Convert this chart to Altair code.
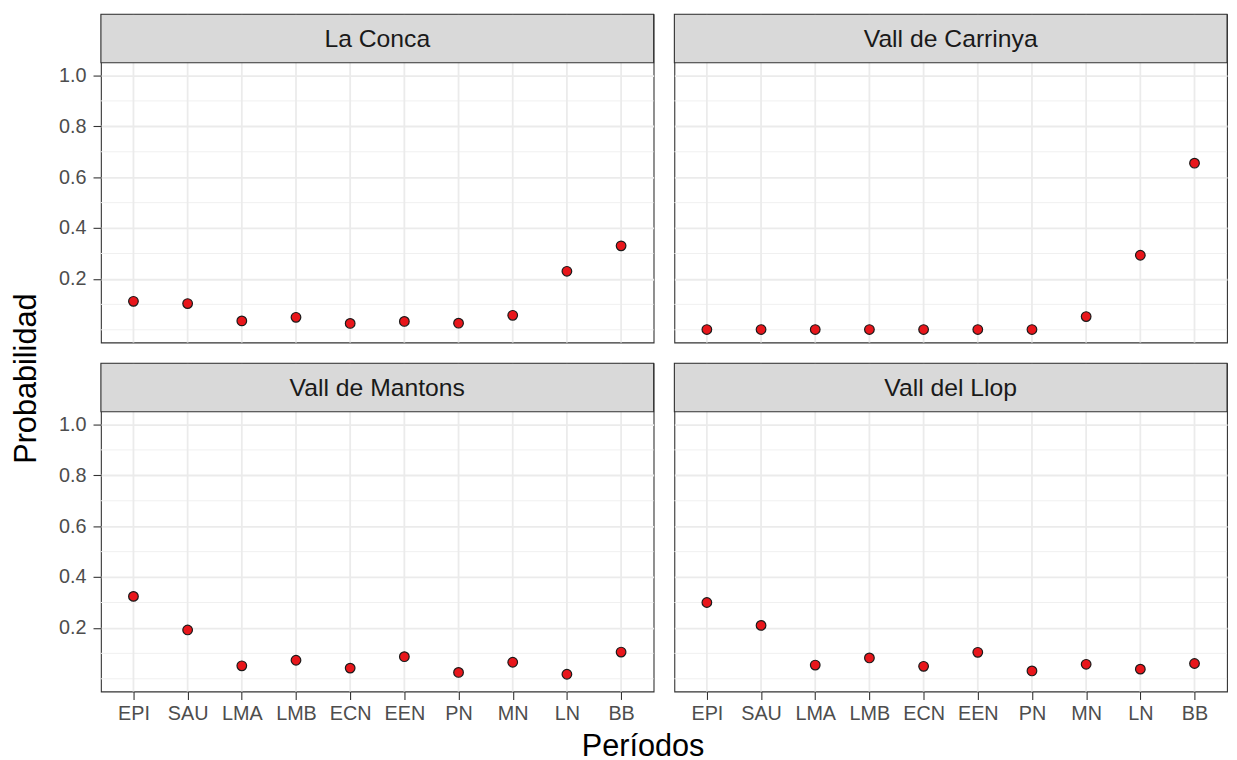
import altair as alt
import pandas as pd

periodos = ["EPI", "SAU", "LMA", "LMB", "ECN", "EEN", "PN", "MN", "LN", "BB"]
sitios = ["La Conca", "Vall de Carrinya", "Vall de Mantons", "Vall del Llop"]

la_conca = [0.112, 0.103, 0.035, 0.049, 0.025, 0.033, 0.026, 0.057, 0.230, 0.330]
vall_carrinya = [0.001, 0.001, 0.001, 0.001, 0.001, 0.001, 0.001, 0.052, 0.293, 0.655]
vall_mantons = [0.324, 0.192, 0.051, 0.073, 0.042, 0.087, 0.025, 0.065, 0.018, 0.105]
vall_llop = [0.300, 0.210, 0.054, 0.082, 0.049, 0.104, 0.031, 0.057, 0.038, 0.060]

y_major = [0.2, 0.4, 0.6, 0.8, 1.0]
y_minor = [0.0, 0.1, 0.3, 0.5, 0.7, 0.9]

valores = [la_conca, vall_carrinya, vall_mantons, vall_llop]

FONT = "Liberation Sans"
W = 559
STRIP = 49
PLOT = 283
H = STRIP + PLOT
GRID = "#EBEBEB"

rows = []
for s, vals in zip(sitios, valores):
    for p, v in zip(periodos, vals):
        rows.append({"sitio": s, "periodo": p, "prob": v})
df = pd.DataFrame(rows)
minor_df = pd.DataFrame({"v": y_minor})
xgrid_df = pd.DataFrame({"periodo": periodos})

yscale = alt.Scale(domain=[-0.05, 1.05], range=[H, STRIP], nice=False, zero=False)
xscale = alt.Scale(type="point", domain=periodos, padding=0.6)


def panel(name, show_x, show_y):
    yaxis = alt.Axis(values=y_major, format=".1f", labels=show_y, ticks=show_y,
                     domain=False, grid=True, gridColor=GRID, gridWidth=1.8,
                     tickSize=8, tickColor="#333333", tickWidth=1.1,
                     labelFontSize=20, labelColor="#4D4D4D", labelPadding=7,
                     labelFont=FONT, minExtent=0, title=None)
    xaxis = alt.Axis(labels=show_x, ticks=show_x, domain=False, grid=False,
                     tickSize=8, tickColor="#333333", tickWidth=1.1, labelAngle=0,
                     labelFontSize=20, labelColor="#4D4D4D", labelPadding=4,
                     labelFont=FONT, minExtent=0, title=None)
    sub = df[df["sitio"] == name]
    strip_df = pd.DataFrame({"t": [name]})

    minor = alt.Chart(minor_df).mark_rule(color="#F0F0F0", strokeWidth=1.0).encode(
        y=alt.Y("v:Q", scale=yscale, axis=yaxis)
    )
    xgrid = alt.Chart(xgrid_df).mark_rule(color=GRID, strokeWidth=1.8).encode(
        x=alt.X("periodo:N", scale=xscale, axis=xaxis, sort=periodos)
    )
    pts = alt.Chart(sub).mark_circle(
        size=95, color="#E8161B", stroke="#1A1A1A", strokeWidth=1.2, opacity=1
    ).encode(
        x=alt.X("periodo:N", scale=xscale, axis=xaxis, sort=periodos),
        y=alt.Y("prob:Q", scale=yscale, axis=yaxis),
    )
    strip_rect = alt.Chart(strip_df).mark_rect(
        fill="#D9D9D9", stroke="#333333", strokeWidth=1.1
    ).encode(
        x=alt.value(0), x2=alt.value(W), y=alt.value(0), y2=alt.value(STRIP)
    )
    strip_text = alt.Chart(strip_df).mark_text(
        fontSize=25, color="#1A1A1A", font=FONT, baseline="middle", align="center"
    ).encode(
        x=alt.value(W / 2), y=alt.value(STRIP / 2 + 1), text="t:N"
    )
    return alt.layer(minor, xgrid, pts, strip_rect, strip_text).properties(width=W, height=H)


row1 = alt.hconcat(panel(sitios[0], False, True), panel(sitios[1], False, False), spacing=17)
row2 = alt.hconcat(panel(sitios[2], True, True), panel(sitios[3], True, False), spacing=17)
grid = alt.vconcat(row1, row2, spacing=17).properties(
    title=alt.TitleParams("Períodos", orient="bottom", anchor="middle", fontSize=31,
                          fontWeight="normal", color="#000000", font=FONT, offset=9)
)

chart = alt.hconcat(grid, spacing=0).properties(
    padding={"left": 3, "top": 0, "right": 0, "bottom": 0},
    title=alt.TitleParams("Probabilidad", orient="left", anchor="middle", fontSize=31,
                          fontWeight="normal", color="#000000", font=FONT, offset=15,
                          dx=9)
).configure(
    font=FONT
).configure_view(stroke="#333333", strokeWidth=1.1)

chart.save("out.html", embed_options={"renderer": "svg", "actions": False})
